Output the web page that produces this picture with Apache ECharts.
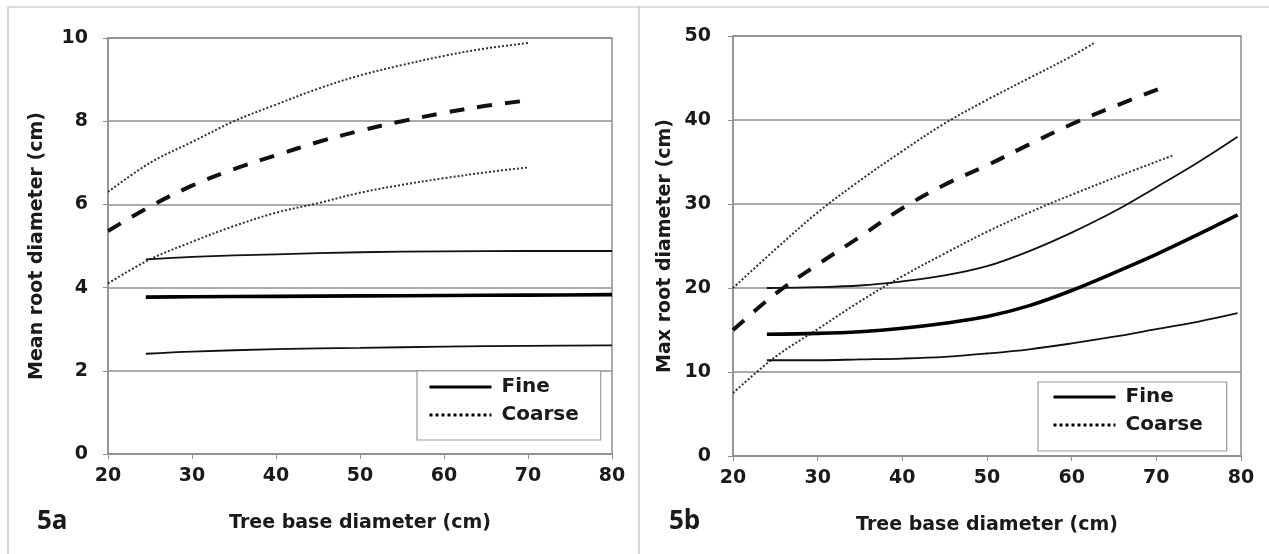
<!DOCTYPE html>
<html>
<head>
<meta charset="utf-8">
<script src="https://cdn.jsdelivr.net/npm/echarts@6/dist/echarts.min.js"></script>
<style>html,body{margin:0;padding:0;background:#fff}#c{width:1269px;height:554px}</style>
</head>
<body>
<div id="c"></div>
<script>
// ---- Panel 5a: mean root diameter ----
const aFineX = [24.5, 30, 40, 50, 60, 70, 80];
const aFineUpper = [4.68, 4.74, 4.80, 4.85, 4.87, 4.88, 4.88];
const aFineMean = [3.77, 3.78, 3.79, 3.80, 3.81, 3.82, 3.83];
const aFineLower = [2.41, 2.46, 2.52, 2.55, 2.58, 2.60, 2.61];
const aCoarseX = [20, 25, 30, 35, 40, 45, 50, 55, 60, 65, 70];
const aCoarseUpper = [6.3, 7.0, 7.5, 8.0, 8.4, 8.78, 9.1, 9.35, 9.57, 9.75, 9.88];
const aCoarseMean = [5.36, 5.95, 6.45, 6.85, 7.18, 7.5, 7.77, 8.0, 8.2, 8.37, 8.5];
const aCoarseLower = [4.1, 4.68, 5.1, 5.48, 5.8, 6.03, 6.28, 6.47, 6.63, 6.77, 6.89];

// ---- Panel 5b: max root diameter ----
const bCoarseUpperX = [20, 25, 30, 35, 40, 45, 50, 55, 60, 62.7];
const bCoarseUpper = [20.0, 24.6, 29.0, 32.8, 36.3, 39.6, 42.4, 45.0, 47.6, 49.2];
const bCoarseMeanX = [20, 25, 30, 35, 40, 45, 50, 55, 60, 65, 70.8];
const bCoarseMean = [15.0, 19.3, 22.8, 26.1, 29.5, 32.3, 34.6, 37.1, 39.5, 41.6, 43.9];
const bCoarseLowerX = [20, 25, 30, 35, 40, 45, 50, 55, 60, 65, 72];
const bCoarseLower = [7.5, 11.8, 15.1, 18.4, 21.4, 24.1, 26.7, 29.0, 31.1, 33.1, 35.8];
const bFineX = [24, 30, 35, 40, 45, 50, 55, 60, 65, 70, 75, 79.6];
const bFineUpper = [20.0, 20.1, 20.3, 20.8, 21.5, 22.6, 24.4, 26.6, 29.1, 32.0, 35.0, 38.0];
const bFineMean = [14.5, 14.6, 14.8, 15.2, 15.8, 16.6, 17.9, 19.7, 21.8, 24.0, 26.4, 28.7];
const bFineLower = [11.4, 11.4, 11.5, 11.6, 11.8, 12.2, 12.7, 13.4, 14.2, 15.1, 16.0, 17.0];

const legendNames = ['Fine', 'Coarse'];
const xTitle = 'Tree base diameter (cm)';
const yTitleA = 'Mean root diameter (cm)';
const yTitleB = 'Max root diameter (cm)';
const panelTags = ['5a', '5b'];

const zip = (xs, ys) => xs.map((x, i) => [x, ys[i]]);

const FONT = '"DejaVu Sans", Verdana, sans-serif';
const TXT = '#1a1a1a';
const GRIDC = '#8f8f8f';
const DOT = { color: '#333', width: 2, type: [2, 2] };
const DASH = { color: '#111', width: 4, type: [15, 13] };
const THIN = { color: '#111', width: 1.8 };
const THICK = { color: '#000', width: 3.6 };

function line(name, data, style, idx) {
  return {
    name: name, type: 'line', data: data, xAxisIndex: idx, yAxisIndex: idx,
    symbol: 'none', smooth: 0.35, lineStyle: style, silent: true, animation: false, z: 3
  };
}

function xAxis(idx) {
  return {
    type: 'value', gridIndex: idx, min: 20, max: 80, interval: 10,
    name: xTitle, nameLocation: 'middle', nameGap: 60,
    nameTextStyle: { fontFamily: FONT, fontWeight: 'bold', fontSize: 19, color: TXT },
    axisLine: { show: true, lineStyle: { color: GRIDC, width: 1.5 } },
    axisTick: { show: true, length: 5, lineStyle: { color: GRIDC } },
    axisLabel: { fontFamily: FONT, fontWeight: 'bold', fontSize: 19, color: TXT, margin: 13 },
    splitLine: { show: false }
  };
}
function yAxis(idx, max, interval, title) {
  return {
    type: 'value', gridIndex: idx, min: 0, max: max, interval: interval,
    name: title, nameLocation: 'middle', nameGap: idx === 0 ? 61 : 58,
    nameTextStyle: { fontFamily: FONT, fontWeight: 'bold', fontSize: 19, color: TXT },
    axisLine: { show: true, lineStyle: { color: GRIDC, width: 1.5 } },
    axisTick: { show: true, length: 5, lineStyle: { color: GRIDC } },
    axisLabel: { fontFamily: FONT, fontWeight: 'bold', fontSize: 19, color: TXT, margin: idx === 0 ? 20 : 22 },
    splitLine: { show: true, lineStyle: { color: GRIDC, width: 1.5 } }
  };
}
function legend(left, top, padding) {
  return {
    left: left, top: top, orient: 'vertical', itemWidth: 62, itemHeight: 14, itemGap: 8,
    padding: padding, borderColor: '#9a9a9a', borderWidth: 1.2, backgroundColor: '#fff',
    textStyle: { fontFamily: FONT, fontWeight: 'bold', fontSize: 20, color: TXT, padding: [0, 0, 0, 5] },
    selectedMode: false,
    data: [
      { name: legendNames[0], itemStyle: { opacity: 0 }, lineStyle: { color: '#000', width: 3, type: 'solid' } },
      { name: legendNames[1], itemStyle: { opacity: 0 }, lineStyle: { color: '#000', width: 3, type: [3, 3] } }
    ]
  };
}

const chart = echarts.init(document.getElementById('c'), null, { renderer: 'canvas' });
chart.setOption({
  animation: false,
  backgroundColor: '#fff',
  grid: [
    { left: 108, right: 657, top: 38, bottom: 100, show: true, borderColor: GRIDC, borderWidth: 1.5 },
    { left: 733, right: 28, top: 36, bottom: 98, show: true, borderColor: GRIDC, borderWidth: 1.5 }
  ],
  xAxis: [xAxis(0), xAxis(1)],
  yAxis: [yAxis(0, 10, 2, yTitleA), yAxis(1, 50, 10, yTitleB)],
  legend: [legend(417, 371, [6, 22, 15, 11]), legend(1038, 382, [5, 24, 16, 14])],
  title: [
    { text: panelTags[0], left: 32, top: 504, textStyle: { fontFamily: '"Open Sans", sans-serif', fontWeight: 'bold', fontSize: 26, color: TXT } },
    { text: panelTags[1], left: 664, top: 504, textStyle: { fontFamily: '"Open Sans", sans-serif', fontWeight: 'bold', fontSize: 26, color: TXT } }
  ],
  graphic: [
    { type: 'line', shape: { x1: 8, y1: 7, x2: 1269, y2: 7 }, style: { stroke: '#bbb', lineWidth: 1.2 }, silent: true },
    { type: 'line', shape: { x1: 8, y1: 7, x2: 8, y2: 554 }, style: { stroke: '#bbb', lineWidth: 1.2 }, silent: true },
    { type: 'line', shape: { x1: 639, y1: 7, x2: 639, y2: 554 }, style: { stroke: '#bbb', lineWidth: 1.2 }, silent: true }
  ],
  series: [
    line('Coarse', zip(aCoarseX, aCoarseUpper), DOT, 0),
    line('Coarse', zip(aCoarseX, aCoarseLower), DOT, 0),
    line('Coarse', zip(aCoarseX, aCoarseMean), DASH, 0),
    line('Fine', zip(aFineX, aFineUpper), THIN, 0),
    line('Fine', zip(aFineX, aFineMean), THICK, 0),
    line('Fine', zip(aFineX, aFineLower), THIN, 0),
    line('Coarse', zip(bCoarseUpperX, bCoarseUpper), DOT, 1),
    line('Coarse', zip(bCoarseLowerX, bCoarseLower), DOT, 1),
    line('Coarse', zip(bCoarseMeanX, bCoarseMean), DASH, 1),
    line('Fine', zip(bFineX, bFineUpper), THIN, 1),
    line('Fine', zip(bFineX, bFineMean), THICK, 1),
    line('Fine', zip(bFineX, bFineLower), THIN, 1)
  ]
});
</script>
</body>
</html>
